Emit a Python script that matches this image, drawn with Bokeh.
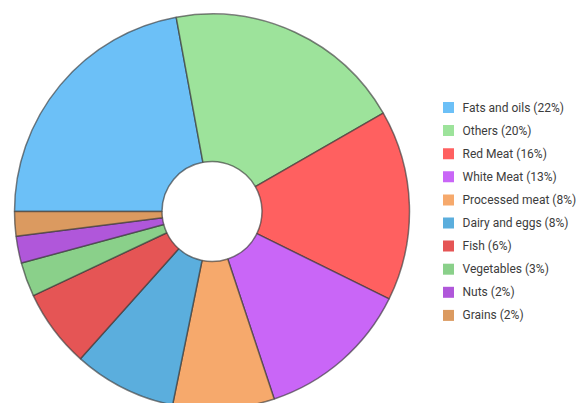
import math
from bokeh.plotting import figure
from bokeh.models import Range1d, ColumnDataSource
from bokeh.core.properties import value
from bokeh.embed import file_html
from bokeh.resources import INLINE

categories = ["Fats and oils", "Others", "Red Meat", "White Meat", "Processed meat",
              "Dairy and eggs", "Fish", "Vegetables", "Nuts", "Grains"]
shares = [22.1, 19.6, 15.6, 12.6, 8.3, 8.4, 6.4, 2.8, 2.2, 2.0]
colors = ["#6CC0F7", "#9DE39B", "#FF6060", "#C966F7", "#F6A96C",
          "#5BAEDD", "#E55555", "#8AD08A", "#B057DA", "#DB9A60"]

W, H = 579, 403
cx, cy = 211.5, -211
r_out, r_in = 197.5, 50

total = sum(shares)
starts, ends = [], []
cum = 0
for v in shares:
    starts.append(math.pi - 2 * math.pi * cum / total)
    cum += v
    ends.append(math.pi - 2 * math.pi * cum / total)

p = figure(width=W, height=H, output_backend="svg", toolbar_location=None,
           x_range=Range1d(0, W), y_range=Range1d(-H, 0), min_border=0)
p.axis.visible = False
p.grid.visible = False
p.outline_line_color = None

src = ColumnDataSource(dict(start=starts, end=ends, color=colors))
p.annular_wedge(x=cx, y=cy, inner_radius=r_in, outer_radius=r_out,
                start_angle="start", end_angle="end", direction="clock",
                fill_color="color", line_color="#3a3a3a", line_alpha=0.65,
                line_width=1.5, source=src)

labels = [f"{c} ({round(100 * v / total)}%)" for c, v in zip(categories, shares)]
row0, step = -107, 23.1
ys = [row0 - i * step for i in range(len(labels))]
lsrc = ColumnDataSource(dict(y=ys, color=colors, label=labels))
p.rect(x=448, y="y", width=11, height=11, fill_color="color", line_color=None, source=lsrc)
p.text(x=462, y="y", text="label", text_font=value("Roboto"), text_font_size="12px",
       text_color="#3c3c3c", text_baseline="middle", source=lsrc)

open("out.html", "w").write(file_html(p, INLINE))
